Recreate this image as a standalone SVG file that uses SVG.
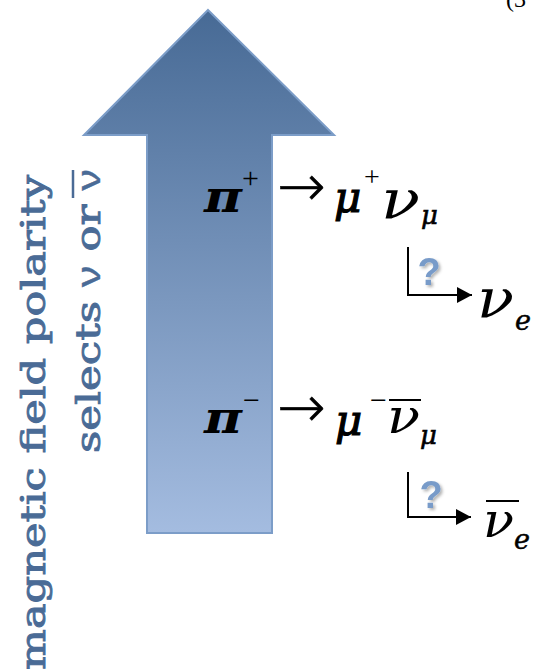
<svg xmlns="http://www.w3.org/2000/svg" width="533" height="672" viewBox="0 0 533 672">
<defs>
<linearGradient id="ag" x1="0" y1="0" x2="0" y2="1" gradientUnits="objectBoundingBox">
<stop offset="0" stop-color="#476a95"/>
<stop offset="1" stop-color="#a4bce0"/>
</linearGradient>
<marker id="ah" markerUnits="userSpaceOnUse" markerWidth="16" markerHeight="16" refX="15" refY="8" orient="auto">
<path d="M0,0 L15,8 L0,16 z" fill="#000"/>
</marker>
<filter id="sh" x="-30%" y="-30%" width="160%" height="160%">
<feDropShadow dx="2" dy="2" stdDeviation="1.5" flood-color="#000" flood-opacity="0.3"/>
</filter>
</defs>
<style>
.m{font-family:"DejaVu Serif",serif;font-style:italic;fill:#000}
.mu{stroke:#000;stroke-width:1.2}
.s{font-family:"Liberation Serif","Times New Roman",serif;fill:#000}
.ar{font-family:"DejaVu Sans",sans-serif;font-weight:200;fill:#000;stroke:#000;stroke-width:0.6}
.lab{font-family:"DejaVu Serif",serif;fill:#4a6b96;stroke:#4a6b96;stroke-width:0.9;font-size:33px}
.nu{font-family:"Liberation Sans",Arial,sans-serif;stroke-width:0.3}
.q{font-family:"Liberation Sans",Arial,sans-serif;font-weight:bold;fill:#789bc9;font-size:38px;filter:url(#sh)}
.bar{stroke:#000;stroke-width:2}
.c{fill:none;stroke:#000;stroke-width:2;marker-end:url(#ah)}
</style>
<rect width="533" height="672" fill="#fff"/>
<text class="s" x="506" y="7" font-size="24">(3</text>

<g id="field-arrow">
<polygon points="208,10 334,135 272,135 272,533 147,533 147,135 84,135" fill="url(#ag)" stroke="#7c9dc8" stroke-width="2"/>
</g>

<g id="label">
<text class="lab" transform="translate(45,670) rotate(-90)" textLength="495" lengthAdjust="spacingAndGlyphs">magnetic field polarity</text>
<text class="lab" transform="translate(100,453) rotate(-90)" textLength="284" lengthAdjust="spacingAndGlyphs">selects <tspan class="nu">ν</tspan> or <tspan class="nu">ν</tspan></text>
<line x1="73" y1="198" x2="73" y2="170" stroke="#4a6b96" stroke-width="2.5"/>
</g>

<g id="decay-plus">
<text class="m" x="204" y="212" font-size="44" font-weight="bold" textLength="38" lengthAdjust="spacingAndGlyphs">π</text>
<text class="s" x="242" y="188" font-size="30">+</text>
<text class="ar" x="277" y="206" font-size="58">→</text>
<text class="m mu" x="334" y="212" font-size="42">μ</text>
<text class="s" x="364" y="186" font-size="28">+</text>
<text class="m" x="381" y="218" font-size="54" textLength="39" lengthAdjust="spacingAndGlyphs">ν</text>
<text class="m mu" x="421" y="224" font-size="26" style="stroke-width:0.6">μ</text>
</g>

<g id="nue">
<text class="q" x="429" y="285" text-anchor="middle">?</text>
<text class="m" x="477" y="317" font-size="54" textLength="37" lengthAdjust="spacingAndGlyphs">ν</text>
<text class="m mu" x="515" y="330" font-size="27" style="stroke-width:0.5">e</text>
</g>

<g id="decay-minus">
<text class="m" x="204" y="433" font-size="44" font-weight="bold" textLength="38" lengthAdjust="spacingAndGlyphs">π</text>
<text class="s" x="243" y="410" font-size="30">−</text>
<text class="ar" x="277" y="427" font-size="58">→</text>
<text class="m mu" x="335" y="435" font-size="42">μ</text>
<text class="s" x="370" y="410" font-size="30">−</text>
<text class="m" x="387" y="433" font-size="48" textLength="33" lengthAdjust="spacingAndGlyphs">ν</text>
<line class="bar" x1="389" y1="400" x2="421" y2="400"/>
<text class="m mu" x="420" y="444" font-size="26" style="stroke-width:0.6">μ</text>
</g>

<g id="nuebar">
<text class="q" x="431" y="508" text-anchor="middle">?</text>
<text class="m" x="483" y="537" font-size="48" textLength="31" lengthAdjust="spacingAndGlyphs">ν</text>
<line class="bar" x1="486" y1="501" x2="519" y2="501"/>
<text class="m mu" x="514" y="549" font-size="27" style="stroke-width:0.5">e</text>
</g>

<g id="connectors">
<path class="c" d="M408,247 V295 H472"/>
<path class="c" d="M408,472 V517 H471"/>
</g>
</svg>
